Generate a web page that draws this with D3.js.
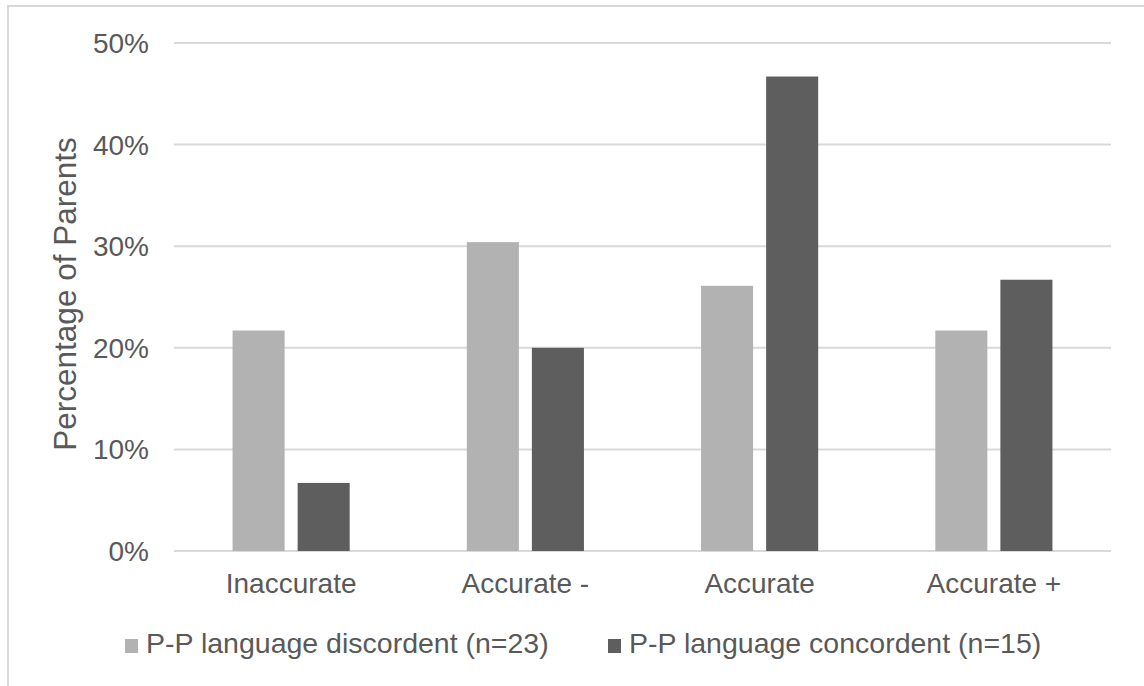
<!DOCTYPE html>
<html>
<head>
<meta charset="utf-8">
<script src="https://cdn.jsdelivr.net/npm/d3@7"></script>
<style>
  html, body { margin: 0; padding: 0; background: #fff; }
  svg { display: block; font-family: "Liberation Sans", Arial, sans-serif; }
</style>
</head>
<body>
<svg id="chart" width="1144" height="686"></svg>
<script>
const categories = ["Inaccurate", "Accurate -", "Accurate", "Accurate +"];
const seriesNames = ["P-P language discordent (n=23)", "P-P language concordent (n=15)"];
const discordent = [0.217, 0.304, 0.261, 0.217];
const concordent = [0.067, 0.200, 0.467, 0.267];
const yTicks = [0, 0.1, 0.2, 0.3, 0.4, 0.5];
const colors = ["#b2b2b2", "#5e5e5e"];

(function () {
const svg = d3.select("#chart");
const textColor = "#595959";

svg.append("rect").attr("x", 8).attr("y", 6).attr("width", 1150).attr("height", 700)
  .attr("fill", "none").attr("stroke", "#d9d9d9").attr("stroke-width", 2);

const pLeft = 174, pRight = 1111, pTop = 43, pBottom = 551;

const y = d3.scaleLinear().domain([0, 0.5]).range([pBottom, pTop]);
const x0 = d3.scaleBand().domain(categories).range([pLeft, pRight]).paddingInner(0.5).paddingOuter(0.25);
const x1 = d3.scaleBand().domain([0, 1]).range([0, x0.bandwidth()]).paddingInner(0.2);

svg.append("g").selectAll("line").data(yTicks).join("line")
  .attr("x1", pLeft).attr("x2", pRight)
  .attr("y1", d => y(d)).attr("y2", d => y(d))
  .attr("stroke", "#d9d9d9").attr("stroke-width", 2);

const yAxis = d3.axisLeft(y).tickValues(yTicks).tickFormat(d3.format(".0%")).tickSize(0).tickPadding(0);
const gy = svg.append("g").attr("transform", `translate(149,0)`).call(yAxis);
gy.select(".domain").remove();
gy.selectAll("text").attr("font-size", 28).attr("fill", textColor)
  .attr("font-family", "Liberation Sans, Arial, sans-serif").attr("dy", "0.34em");

const data = categories.map((c, i) => ({ cat: c, vals: [discordent[i], concordent[i]] }));
const groups = svg.append("g").selectAll("g").data(data).join("g")
  .attr("transform", d => `translate(${x0(d.cat)},0)`);
groups.selectAll("rect").data(d => d.vals.map((v, k) => ({ v, k }))).join("rect")
  .attr("x", d => x1(d.k)).attr("width", x1.bandwidth())
  .attr("y", d => y(d.v)).attr("height", d => y(0) - y(d.v))
  .attr("fill", d => colors[d.k]);

const xAxis = d3.axisBottom(x0).tickSize(0).tickPadding(0);
const gx = svg.append("g").attr("transform", `translate(0,${pBottom})`).call(xAxis);
gx.select(".domain").remove();
gx.selectAll("text").attr("font-size", 28).attr("fill", textColor)
  .attr("font-family", "Liberation Sans, Arial, sans-serif").attr("dy", null).attr("y", 42);

svg.append("text")
  .attr("transform", `translate(76,294) rotate(-90)`)
  .attr("text-anchor", "middle").attr("font-size", 31.5).attr("fill", textColor)
  .text("Percentage of Parents");

const legendX = [125, 608];
const lg = svg.append("g").selectAll("g").data(seriesNames).join("g")
  .attr("transform", (d, i) => `translate(${legendX[i]},639)`);
lg.append("rect").attr("width", 13).attr("height", 14).attr("fill", (d, i) => colors[i]);
lg.append("text").attr("x", 21).attr("y", 14).attr("font-size", 28.5).attr("fill", textColor).text(d => d);
})();
</script>
</body>
</html>
